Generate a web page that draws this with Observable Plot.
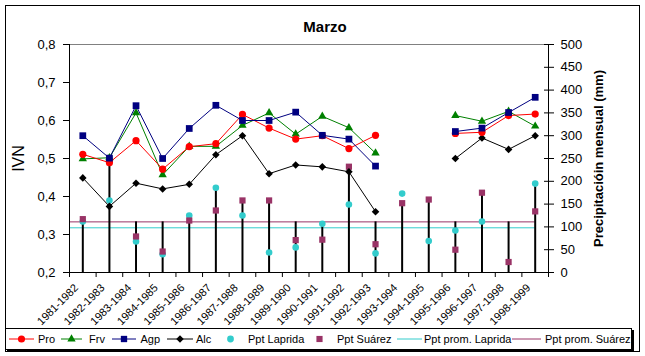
<!DOCTYPE html>
<html>
<head>
<meta charset="utf-8">
<script src="https://cdn.jsdelivr.net/npm/d3@7"></script>
<script src="https://cdn.jsdelivr.net/npm/@observablehq/plot@0.6"></script>
<style>
  html, body { margin: 0; padding: 0; background: #fff; }
  #wrap { position: relative; width: 645px; height: 356px; font-family: "Liberation Sans", Arial, sans-serif; }
  #chart { position: absolute; left: 0; top: 0; }
  #frame { position: absolute; left: 5px; top: 5px; width: 635px; height: 347px; box-sizing: border-box; border: 1px solid #000; pointer-events: none; }
  #legend { position: absolute; left: 0; top: 0; }
</style>
</head>
<body>
<div id="wrap">
  <div id="chart"></div>
  <div id="frame"></div>
</div>
<script>
// ---- data ----
const cats = ["1981-1982","1982-1983","1983-1984","1984-1985","1985-1986","1986-1987",
  "1987-1988","1988-1989","1989-1990","1990-1991","1991-1992","1992-1993",
  "1993-1994","1994-1995","1995-1996","1996-1997","1997-1998","1998-1999"];
const pro = [0.511,0.489,0.547,0.472,0.531,0.539,0.616,0.580,0.551,0.560,0.526,0.561,null,null,0.566,0.569,0.613,0.617];
const frv = [0.499,0.502,0.620,0.457,0.532,0.532,0.587,0.620,0.564,0.611,0.581,0.514,null,null,0.613,0.598,0.624,0.585];
const agp = [0.560,0.501,0.639,0.500,0.579,0.640,0.600,0.600,0.622,0.561,0.551,0.480,null,null,0.571,0.580,0.621,0.661];
const alc = [0.449,0.374,0.435,0.420,0.432,0.510,0.560,0.460,0.483,0.478,0.465,0.360,null,null,0.500,0.554,0.524,0.560];
const pptLaprida = [112,158,68,40,125,186,125,44,55,107,149,42,173,69,92,112,null,195];
const pptSuarez  = [117,248,79,46,114,136,158,158,71,72,232,62,152,160,50,175,23,134];
const stemTop    = [117,248,111,111,125,186,158,158,111,111,232,111,152,160,111,175,111,195];
const promLaprida = [98];
const promSuarez = [111];
const ivnTicks = [0.2,0.3,0.4,0.5,0.6,0.7,0.8];
const mmTicks = [0,50,100,150,200,250,300,350,400,450,500];

// secondary axis (mm) mapped onto IVN scale
const mmMax = 500, ivnMin = 0.2, ivnMax = 0.8;
const toY = mm => (mm == null ? null : ivnMin + mm * (ivnMax - ivnMin) / mmMax);

const idx = d3.range(cats.length);
const FONT = "Liberation Sans, Arial, sans-serif";
const C = {pro:"#FF0000", frv:"#008000", agp:"#000080", alc:"#000000", lap:"#33CCCC", sua:"#993366"};

const seriesMarks = (vals, color, symbol, r) => [
  Plot.lineY(idx, {x: i => i, y: i => vals[i], stroke: color, strokeWidth: 1}),
  Plot.dot(idx.filter(i => vals[i] != null), {x: i => i, y: i => vals[i], fill: color, stroke: "none", symbol, r})
];

const chart = Plot.plot({
  width: 645, height: 350,
  marginLeft: 69, marginRight: 97, marginTop: 44, marginBottom: 78,
  style: {fontFamily: FONT, fontSize: "13px", background: "transparent", color: "#000", overflow: "visible"},
  x: {domain: [-0.5, cats.length - 0.5]},
  y: {domain: [ivnMin, ivnMax]},
  marks: [
    Plot.ruleY([ivnMax], {stroke: "#808080"}),
    Plot.ruleY(promSuarez, {y: d => toY(d), x1: -0.5, x2: cats.length - 1, stroke: C.sua, strokeWidth: 1}),
    Plot.ruleY(promLaprida, {y: d => toY(d), x1: -0.5, x2: cats.length - 1, stroke: C.lap, strokeWidth: 1}),
    Plot.ruleX(idx, {x: i => i, y1: ivnMin, y2: i => toY(stemTop[i]), stroke: "#000", strokeWidth: 2}),
    Plot.dot(idx.filter(i => pptLaprida[i] != null), {x: i => i, y: i => toY(pptLaprida[i]), fill: C.lap, stroke: "none", symbol: "circle", r: 3.3}),
    Plot.dot(idx.filter(i => pptSuarez[i] != null), {x: i => i, y: i => toY(pptSuarez[i]), fill: C.sua, stroke: "none", symbol: "square", r: 3.5}),
    ...seriesMarks(alc, C.alc, "diamond2", 3.4),
    ...seriesMarks(frv, C.frv, "triangle", 3.1),
    ...seriesMarks(pro, C.pro, "circle", 3.6),
    ...seriesMarks(agp, C.agp, "square", 3.8),
    // axes lines
    Plot.ruleY([ivnMin], {stroke: "#000"}),
    Plot.ruleX([-0.5, cats.length - 0.5], {stroke: "#000"}),
    // left axis
    Plot.axisY({anchor: "left", ticks: ivnTicks, tickSize: 6, tickPadding: 8,
      tickFormat: d => d.toFixed(1).replace(".", ","), label: null, fontSize: 13}),
    // right axis: crossing ticks + labels
    Plot.axisY({anchor: "right", ticks: mmTicks.map(toY), tickSize: 10, dx: -5, tickFormat: () => "", label: null}),
    Plot.axisY({anchor: "right", ticks: mmTicks.map(toY), tickSize: 0, tickPadding: 12,
      tickFormat: d => String(Math.round((d - ivnMin) * mmMax / (ivnMax - ivnMin))), label: null, fontSize: 13}),
    // bottom axis ticks at category boundaries
    Plot.axisX({ticks: d3.range(-0.5, cats.length, 1), tickSize: 5, tickFormat: () => "", label: null}),
    Plot.text(idx, {x: i => i, y: ivnMin, text: i => cats[i], rotate: -45, textAnchor: "end",
      lineAnchor: "bottom", dx: -4, dy: 16, fontSize: 11}),
    // titles
    Plot.text(["Marzo"], {frameAnchor: "top", text: d => d, dx: 16, dy: -13, lineAnchor: "bottom",
      textAnchor: "middle", fontSize: 15, fontWeight: "bold"}),
    Plot.text(["IVN"], {frameAnchor: "left", text: d => d, dx: -51, rotate: -90, textAnchor: "middle", fontSize: 16}),
    Plot.text(["Precipitacióin mensual (mm)"], {frameAnchor: "right", text: d => d, dx: 50, rotate: -90,
      textAnchor: "middle", fontSize: 13, fontWeight: "bold"})
  ]
});
document.getElementById("chart").appendChild(chart);

// ---- legend ----
const lg = d3.select("#wrap").append("svg").attr("id", "legend")
  .attr("width", 645).attr("height", 356)
  .style("font-family", FONT).style("font-size", "11px");
lg.append("rect").attr("x", 7).attr("y", 330).attr("width", 627).attr("height", 21).attr("fill", "#000");
lg.append("rect").attr("x", 5.5).attr("y", 328.5).attr("width", 626).attr("height", 21)
  .attr("fill", "#fff").attr("stroke", "#000");
const ly = 339;
const legendItems = [
  {name: "Pro", color: C.pro, line: [9, 34], sym: d3.symbolCircle, size: 40, sx: 21.5, tx: 38},
  {name: "Frv", color: C.frv, line: [61, 82], sym: d3.symbolTriangle, size: 30, sx: 71.5, tx: 89},
  {name: "Agp", color: C.agp, line: [112, 136], sym: d3.symbolSquare, size: 40, sx: 124, tx: 140.5},
  {name: "Alc", color: C.alc, line: [167, 193], sym: d3.symbolDiamond2, size: 36, sx: 180, tx: 196},
  {name: "Ppt Laprida", color: C.lap, line: null, sym: d3.symbolCircle, size: 36, sx: 230.5, tx: 248},
  {name: "Ppt Suárez", color: C.sua, line: null, sym: d3.symbolSquare, size: 38, sx: 319.5, tx: 337},
  {name: "Ppt prom. Laprida", color: C.lap, line: [397, 422], sym: null, tx: 424},
  {name: "Ppt prom. Suárez", color: C.sua, line: [512, 541], sym: null, tx: 545}
];
for (const it of legendItems) {
  if (it.line) lg.append("line").attr("x1", it.line[0]).attr("x2", it.line[1]).attr("y1", ly).attr("y2", ly)
    .attr("stroke", it.color).attr("stroke-width", 1);
  if (it.sym) lg.append("path").attr("d", d3.symbol(it.sym, it.size)())
    .attr("transform", `translate(${it.sx},${ly})`).attr("fill", it.color);
  lg.append("text").attr("x", it.tx).attr("y", ly + 4).text(it.name).attr("fill", "#000");
}
</script>
</body>
</html>
